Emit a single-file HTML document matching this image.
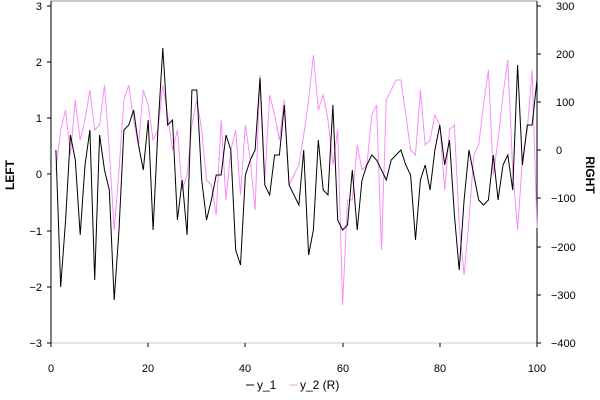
<!DOCTYPE html>
<html><head><style>body{margin:0;background:#fff}svg{display:block;font-family:"Liberation Sans",sans-serif}</style></head><body>
<svg id="s" width="600" height="400" xmlns="http://www.w3.org/2000/svg">
<rect x="0" y="0" width="600" height="400" fill="#fff"/>
<line x1="51" y1="1" x2="537" y2="1" stroke="#c8c8c8" stroke-width="2"/>
<line x1="51" y1="343" x2="537" y2="343" stroke="#c8c8c8"/>
<line x1="51" y1="1" x2="51" y2="343" stroke="#000" stroke-width="1"/>
<line x1="537" y1="1" x2="537" y2="343" stroke="#000"/>
<g font-size="11" fill="#000" text-anchor="end">
<text x="42" y="10">3</text><text x="42" y="66">2</text><text x="42" y="122">1</text><text x="42" y="178">0</text><text x="42" y="235">−1</text><text x="42" y="291">−2</text><text x="42" y="347">−3</text>
</g>
<g stroke="#000"><line x1="47" y1="6" x2="51" y2="6"/><line x1="47" y1="62" x2="51" y2="62"/><line x1="47" y1="118" x2="51" y2="118"/><line x1="47" y1="174" x2="51" y2="174"/><line x1="47" y1="231" x2="51" y2="231"/><line x1="47" y1="287" x2="51" y2="287"/><line x1="47" y1="343" x2="51" y2="343"/>
<line x1="537" y1="6" x2="541" y2="6"/><line x1="537" y1="54" x2="541" y2="54"/><line x1="537" y1="102" x2="541" y2="102"/><line x1="537" y1="150" x2="541" y2="150"/><line x1="537" y1="198" x2="541" y2="198"/><line x1="537" y1="247" x2="541" y2="247"/><line x1="537" y1="295" x2="541" y2="295"/><line x1="537" y1="343" x2="541" y2="343"/>
<line x1="51" y1="343" x2="51" y2="347"/><line x1="148" y1="343" x2="148" y2="347"/><line x1="245" y1="343" x2="245" y2="347"/><line x1="343" y1="343" x2="343" y2="347"/><line x1="440" y1="343" x2="440" y2="347"/><line x1="537" y1="343" x2="537" y2="347"/></g>
<g font-size="11" fill="#000" text-anchor="start">
<text x="556" y="10">300</text><text x="556" y="58">200</text><text x="556" y="106">100</text><text x="556" y="154">0</text><text x="551" y="202">−100</text><text x="551" y="251">−200</text><text x="551" y="299">−300</text><text x="551" y="347">−400</text>
</g>
<g font-size="11" fill="#000" text-anchor="middle">
<text x="51" y="372">0</text><text x="148" y="372">20</text><text x="245" y="372">40</text><text x="343" y="372">60</text><text x="440" y="372">80</text><text x="537" y="372">100</text>
</g>
<text x="14" y="175" font-size="12" font-weight="bold" text-anchor="middle" transform="rotate(-90 14 175)">LEFT</text>
<text x="586" y="175" font-size="12" font-weight="bold" text-anchor="middle" transform="rotate(90 586 175)">RIGHT</text>
<line x1="246" y1="385" x2="254" y2="385" stroke="#000"/><text x="257" y="389" font-size="12">y_1</text>
<line x1="289" y1="385" x2="297" y2="385" stroke="#f8a0f8"/><text x="300" y="389" font-size="12">y_2 (R)</text>
<polyline id="p2" fill="none" stroke="#fa8cfa" stroke-width="1"/>
<polyline id="p1" fill="none" stroke="#000" stroke-width="1"/>
</svg>
<script>
var b=[150,287,220,135,160,235,165,130,280,135,170,190,300,230,130,125,110,145,170,120,230,130,48,125,120,220,180,235,90,90,180,220,200,175,175,135,150,250,265,175,160,150,78,185,195,155,155,105,185,195,205,150,255,230,140,190,195,105,220,230,225,170,230,180,165,155,160,170,180,160,155,150,165,175,240,180,165,190,150,125,165,140,215,270,200,150,175,200,205,200,155,200,165,155,190,65,165,125,125,80];
var p=[170,130,110,155,100,140,120,90,130,125,85,150,230,170,100,85,120,145,90,105,140,130,85,115,150,130,190,175,125,100,130,180,185,215,120,200,150,130,195,125,160,210,75,180,95,115,140,100,185,175,165,135,100,55,110,95,120,165,130,305,200,200,145,170,165,115,105,250,100,90,80,80,115,150,155,90,145,140,115,125,190,130,125,225,275,220,155,145,105,70,175,140,95,60,170,230,160,130,70,228];
function pts(a){return a.map(function(y,i){return (51+4.86*(i+1)).toFixed(1)+","+y}).join(" ")}
document.getElementById("p1").setAttribute("points",pts(b));
document.getElementById("p2").setAttribute("points",pts(p));
</script>
</body></html>
